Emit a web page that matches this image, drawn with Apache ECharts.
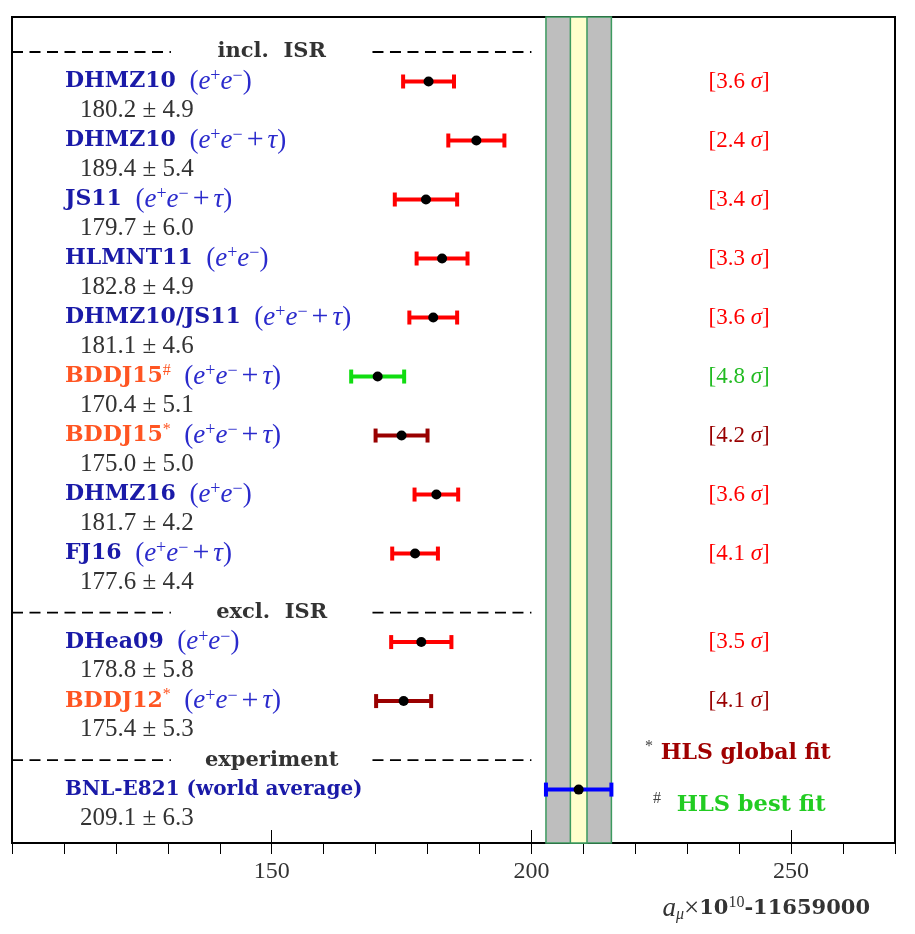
<!DOCTYPE html>
<html>
<head>
<meta charset="utf-8">
<script src="https://cdn.jsdelivr.net/npm/echarts@6/dist/echarts.min.js"></script>
<style>
  html, body { margin: 0; padding: 0; background: #fff; }
  #chart { width: 915px; height: 934px; }
</style>
</head>
<body>
<div id="chart"></div>
<script>
// evaluations of a_mu (x 10^10 - 11659000)
const names = ['DHMZ10', 'DHMZ10', 'JS11', 'HLMNT11', 'DHMZ10/JS11', 'BDDJ15', 'BDDJ15', 'DHMZ16', 'FJ16', 'DHea09', 'BDDJ12', 'BNL-E821 (world average)'];
const channels = ['ee', 'eet', 'eet', 'ee', 'eet', 'eet', 'eet', 'ee', 'eet', 'ee', 'eet', ''];
const fits = ['', '', '', '', '', '#', '*', '', '', '', '*', ''];
const groups = ['incl. ISR', 'incl. ISR', 'incl. ISR', 'incl. ISR', 'incl. ISR', 'incl. ISR', 'incl. ISR', 'incl. ISR', 'incl. ISR', 'excl. ISR', 'excl. ISR', 'experiment'];
const centres = [180.2, 189.4, 179.7, 182.8, 181.1, 170.4, 175.0, 181.7, 177.6, 178.8, 175.4, 209.1];
const errors = [4.9, 5.4, 6.0, 4.9, 4.6, 5.1, 5.0, 4.2, 4.4, 5.8, 5.3, 6.3];
const sigmas = [3.6, 2.4, 3.4, 3.3, 3.6, 4.8, 4.2, 3.6, 4.1, 3.5, 4.1, null];
const bnlBand = [202.8, 215.4];
const futureBand = [207.5, 210.7];
const xRange = [100, 270];

const SERIF = 'Liberation Serif';
const BOLD = 'DejaVu Serif';
const colorsFor = (fit, i) => {
  if (fit === '#') return { bar: '#11dd11', sig: '#22bb22', name: '#ff5522' };
  if (fit === '*') return { bar: '#990000', sig: '#990000', name: '#ff5522' };
  if (i === names.length - 1) return { bar: '#0000ff', sig: '#0000ff', name: '#1515a8' };
  return { bar: '#ff0000', sig: '#ff0000', name: '#1515a8' };
};

// half-slot layout: header takes 1, each entry takes 2 (name line + value line)
let k = 0, lastGroup = null;
const headerRows = [], entryRows = [];
names.forEach((n, i) => {
  if (groups[i] !== lastGroup) {
    headerRows.push([150, k, headerRows.length]);
    lastGroup = groups[i];
    k += 1;
  }
  entryRows.push([centres[i] - errors[i], centres[i] + errors[i], centres[i], k, i]);
  k += 2;
});
const headerNames = [...new Set(groups)];

const richName = {
  b: { fontFamily: BOLD, fontSize: 22, fontWeight: 'bold', fill: '#1a1aa8', lineHeight: 28 },
  bs: { fontFamily: BOLD, fontSize: 20, fontWeight: 'bold', fill: '#1a1aa8', lineHeight: 28 },
  o: { fontFamily: BOLD, fontSize: 22, fontWeight: 'bold', fill: '#ff5522', lineHeight: 28 },
  os: { fontFamily: SERIF, fontSize: 16, fill: '#ff5522', lineHeight: 14, verticalAlign: 'top' },
  p: { fontFamily: SERIF, fontSize: 27, fill: '#2a2acc', lineHeight: 28 },
  pl: { fontFamily: SERIF, fontSize: 30, fill: '#2a2acc', lineHeight: 28, padding: [0, 4, 0, 4] },
  i: { fontFamily: SERIF, fontSize: 27, fontStyle: 'italic', fill: '#2a2acc', lineHeight: 28 },
  s: { fontFamily: SERIF, fontSize: 18, fill: '#2a2acc', lineHeight: 14, verticalAlign: 'top' }
};

const nameText = (i) => {
  let txt;
  if (fits[i]) txt = `{o|${names[i]}}{os|${fits[i]}}`;
  else if (!channels[i]) txt = `{bs|${names[i]}}`;
  else txt = `{b|${names[i]}}`;
  if (channels[i] === 'ee') txt += '{p|  (}{i|e}{s|+}{i|e}{s|−}{p|)}';
  if (channels[i] === 'eet') txt += '{p|  (}{i|e}{s|+}{i|e}{s|−}{pl|+}{i|τ}{p|)}';
  return txt;
};

function renderEntry(params, api) {
  const i = api.value(4);
  const row = api.value(3);
  const col = colorsFor(fits[i], i);
  const lo = api.coord([api.value(0), row]);
  const hi = api.coord([api.value(1), row]);
  const c = api.coord([api.value(2), row]);
  const left = api.coord([xRange[0], row + 1]);
  const sig = api.coord([240, row]);
  const y = c[1];
  const children = [
    { type: 'line', shape: { x1: lo[0], y1: y, x2: hi[0], y2: y }, style: { stroke: col.bar, lineWidth: 4 } },
    { type: 'line', shape: { x1: lo[0], y1: y - 7, x2: lo[0], y2: y + 7 }, style: { stroke: col.bar, lineWidth: 4 } },
    { type: 'line', shape: { x1: hi[0], y1: y - 7, x2: hi[0], y2: y + 7 }, style: { stroke: col.bar, lineWidth: 4 } },
    { type: 'circle', shape: { cx: c[0], cy: y, r: 5 }, style: { fill: '#000' } },
    { type: 'text', x: left[0] + 53, y: y, style: { text: nameText(i), rich: richName, verticalAlign: 'middle', align: 'left' } },
    { type: 'text', x: left[0] + 68, y: left[1] - 1, style: {
      text: `${centres[i].toFixed(1)} ± ${errors[i].toFixed(1)}`,
      fill: '#333', font: `25px "${SERIF}"`, verticalAlign: 'middle', align: 'left' } }
  ];
  if (sigmas[i] != null) {
    children.push({ type: 'text', x: sig[0], y: y, style: {
      text: `{n|[${sigmas[i].toFixed(1)} }{g|σ}{n|]}`,
      rich: {
        n: { fontFamily: SERIF, fontSize: 23, fill: col.sig },
        g: { fontFamily: SERIF, fontSize: 23, fontStyle: 'italic', fill: col.sig }
      },
      align: 'center', verticalAlign: 'middle' } });
  }
  return { type: 'group', children };
}

function renderHeader(params, api) {
  const row = api.value(1);
  const p = api.coord([api.value(0), row]);
  const a0 = api.coord([100, row])[0], a1 = api.coord([130.6, row])[0];
  const b0 = api.coord([169.4, row])[0], b1 = api.coord([200, row])[0];
  const dash = { stroke: '#000', lineWidth: 1.8, lineDash: [11, 6.5] };
  return {
    type: 'group',
    children: [
      { type: 'line', shape: { x1: a0, y1: p[1], x2: a1, y2: p[1] }, style: dash },
      { type: 'line', shape: { x1: b0, y1: p[1], x2: b1, y2: p[1] }, style: dash },
      { type: 'text', x: p[0], y: p[1], style: {
        text: headerNames[api.value(2)].replace(' ', '  '), fill: '#333', font: `bold 21px "${BOLD}"`,
        align: 'center', verticalAlign: 'middle' } }
    ]
  };
}

const chart = echarts.init(document.getElementById('chart'));
chart.setOption({
  animation: false,
  backgroundColor: '#fff',
  grid: { left: 12, top: 17, right: 20, bottom: 91, show: true, borderColor: '#000', borderWidth: 2 },
  xAxis: [{
    type: 'value', min: xRange[0], max: xRange[1], interval: 10, position: 'bottom',
    axisLine: { onZero: false, lineStyle: { color: '#000', width: 2 } },
    axisTick: { length: 11, lineStyle: { color: '#000', width: 1 } },
    splitLine: { show: false },
    axisLabel: {
      margin: 17, color: '#333', fontFamily: SERIF, fontSize: 24,
      formatter: (v) => (v % 50 === 0 && v > xRange[0]) ? String(v) : ''
    }
  }, {
    type: 'value', min: xRange[0], max: xRange[1], interval: 50, position: 'bottom',
    axisLine: { show: false, onZero: false },
    axisTick: { inside: true, length: 13, lineStyle: { color: '#000', width: 1 } },
    axisLabel: { show: false },
    splitLine: { show: false }
  }],
  yAxis: { type: 'value', min: -1.186, max: 26.81, inverse: true, show: false },
  series: [{
    type: 'custom',
    name: 'bands',
    data: [],
    renderItem: () => null,
    markArea: {
      silent: true,
      data: [
        [{ xAxis: bnlBand[0], itemStyle: { color: '#bebebe', borderColor: '#3c9a5f', borderWidth: 1.5 } }, { xAxis: bnlBand[1] }],
        [{ xAxis: futureBand[0], itemStyle: { color: '#ffffcc', borderColor: '#3c9a5f', borderWidth: 1.5 } }, { xAxis: futureBand[1] }]
      ]
    },
    z: 1
  }, {
    type: 'custom',
    name: 'headers',
    data: headerRows,
    encode: { x: 0, y: 1 },
    renderItem: renderHeader,
    clip: false,
    z: 3
  }, {
    type: 'custom',
    name: 'entries',
    data: entryRows,
    encode: { x: [0, 1, 2], y: 3 },
    renderItem: renderEntry,
    clip: false,
    z: 4
  }],
  graphic: [{
    type: 'text', left: 645, top: 739, z: 10,
    style: {
      text: '{s|*}{t| HLS global fit}',
      rich: {
        s: { fontFamily: SERIF, fontSize: 16, fill: '#444', verticalAlign: 'top', lineHeight: 14 },
        t: { fontFamily: BOLD, fontSize: 22, fontWeight: 'bold', fill: '#a00000', lineHeight: 28 }
      }
    }
  }, {
    type: 'text', left: 653, top: 791, z: 10,
    style: {
      text: '{s|#}{t|  HLS best fit}',
      rich: {
        s: { fontFamily: SERIF, fontSize: 16, fill: '#444', verticalAlign: 'top', lineHeight: 14 },
        t: { fontFamily: BOLD, fontSize: 22.5, fontWeight: 'bold', fill: '#22cc22', lineHeight: 28 }
      }
    }
  }, {
    type: 'text', right: 45, top: 895, z: 10,
    style: {
      text: '{i|a}{sub|μ}{n|×}{b|10}{sup|10}{b|-11659000}',
      rich: {
        i: { fontFamily: SERIF, fontSize: 27, fontStyle: 'italic', fill: '#333', lineHeight: 28 },
        sub: { fontFamily: SERIF, fontSize: 16, fontStyle: 'italic', fill: '#333', lineHeight: 14, verticalAlign: 'bottom' },
        n: { fontFamily: SERIF, fontSize: 27, fill: '#333', lineHeight: 28 },
        b: { fontFamily: BOLD, fontSize: 21, fontWeight: 'bold', fill: '#333', lineHeight: 28 },
        sup: { fontFamily: SERIF, fontSize: 16, fill: '#333', lineHeight: 14, verticalAlign: 'top' }
      }
    }
  }]
});
</script>
</body>
</html>
